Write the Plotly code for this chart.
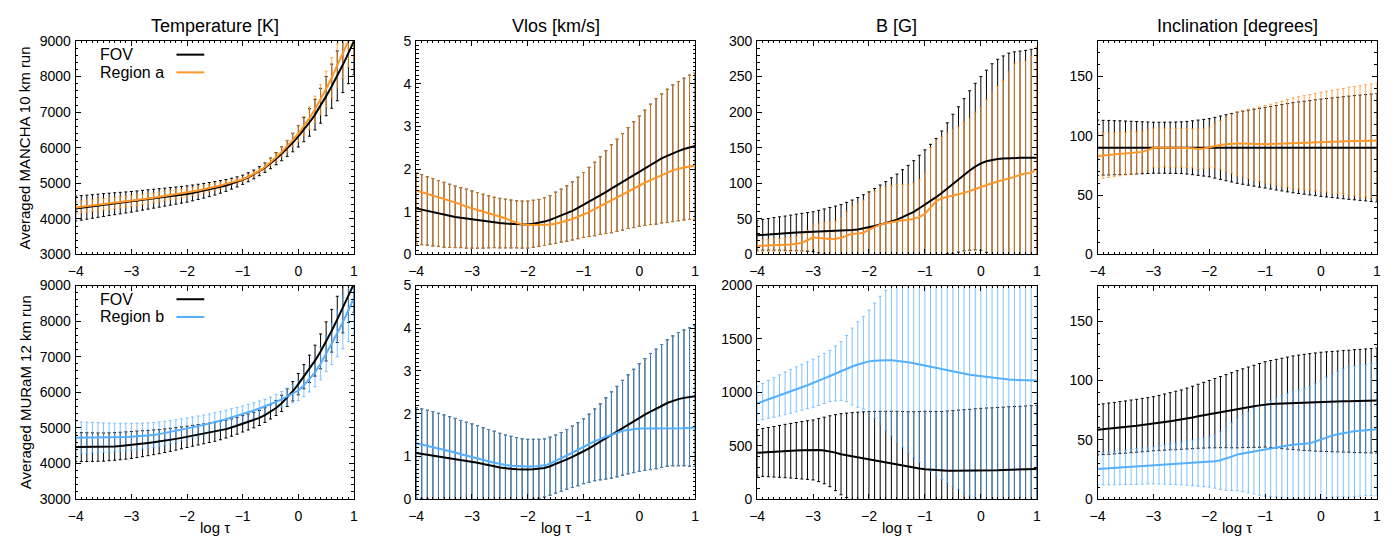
import plotly.graph_objects as go

# ---------------------------------------------------------------------------
# Optical-depth grid (log tau)
# ---------------------------------------------------------------------------
LOG_TAU = [-4.0, -3.9, -3.8, -3.7, -3.6, -3.5, -3.4, -3.3, -3.2, -3.1,
           -3.0, -2.9, -2.8, -2.7, -2.6, -2.5, -2.4, -2.3, -2.2, -2.1,
           -2.0, -1.9, -1.8, -1.7, -1.6, -1.5, -1.4, -1.3, -1.2, -1.1,
           -1.0, -0.9, -0.8, -0.7, -0.6, -0.5, -0.4, -0.3, -0.2, -0.1,
           0.0, 0.1, 0.2, 0.3, 0.4, 0.5, 0.6, 0.7, 0.8, 0.9,
           1.0]

# ---------------------------------------------------------------------------
# MANCHA 10 km run: FOV vs. region a
# ---------------------------------------------------------------------------
T_FOV_A = [4290, 4310, 4330, 4350, 4370, 4390, 4408, 4426, 4444, 4462,
           4480, 4502, 4524, 4546, 4568, 4590, 4612, 4634, 4656, 4678,
           4700, 4730, 4760, 4790, 4825, 4860, 4900, 4940, 4990, 5040,
           5100, 5170, 5250, 5340, 5440, 5560, 5690, 5830, 5980, 6145,
           6320, 6510, 6710, 6930, 7180, 7450, 7730, 8020, 8330, 8660,
           9000]
T_FOV_A_ERR = [350, 344, 338, 332, 326, 320, 314, 308, 302, 296,
               290, 284, 278, 272, 266, 260, 254, 248, 242, 236,
               230, 222, 214, 206, 198, 190, 178, 166, 154, 142,
               130, 126, 124, 126, 132, 150, 170, 195, 225, 260,
               300, 340, 385, 430, 490, 550, 620, 700, 780, 860,
               950]
T_REG_A = [4320, 4338, 4356, 4374, 4392, 4410, 4428, 4446, 4464, 4482,
           4500, 4524, 4548, 4572, 4596, 4620, 4644, 4668, 4692, 4716,
           4740, 4770, 4800, 4835, 4867, 4900, 4940, 4985, 5030, 5070,
           5110, 5180, 5260, 5350, 5460, 5590, 5730, 5880, 6040, 6215,
           6400, 6610, 6830, 7080, 7350, 7650, 7970, 8300, 8640, 9000,
           9350]
T_REG_A_ERR = [170, 168, 166, 164, 162, 160, 158, 156, 154, 152,
               150, 147, 144, 141, 138, 135, 132, 129, 126, 123,
               120, 115, 110, 105, 100, 95, 88, 81, 74, 67,
               60, 62, 66, 72, 82, 100, 118, 140, 165, 195,
               230, 270, 320, 370, 430, 500, 560, 620, 680, 730,
               800]

V_FOV_A = [1.08, 1.05, 1.02, 0.99, 0.96, 0.93, 0.905, 0.88, 0.86, 0.84,
           0.82, 0.80, 0.78, 0.765, 0.75, 0.735, 0.725, 0.715, 0.705, 0.70,
           0.70, 0.72, 0.74, 0.77, 0.81, 0.86, 0.91, 0.96, 1.02, 1.09,
           1.16, 1.23, 1.30, 1.38, 1.46, 1.54, 1.62, 1.70, 1.79, 1.87,
           1.95, 2.03, 2.11, 2.18, 2.25, 2.31, 2.37, 2.42, 2.47, 2.51,
           2.54]
V_REG_A = [1.50, 1.46, 1.42, 1.38, 1.35, 1.31, 1.27, 1.22, 1.17, 1.12,
           1.08, 1.04, 1.00, 0.97, 0.93, 0.89, 0.85, 0.79, 0.74, 0.71,
           0.69, 0.69, 0.69, 0.69, 0.70, 0.72, 0.75, 0.79, 0.83, 0.88,
           0.93, 0.99, 1.06, 1.13, 1.20, 1.27, 1.34, 1.41, 1.48, 1.55,
           1.61, 1.68, 1.74, 1.80, 1.86, 1.92, 1.97, 2.01, 2.04, 2.06,
           2.08]
# spread about the FOV mean (shared by both curves)
V_ERR_A = [0.83, 0.82, 0.80, 0.79, 0.77, 0.76, 0.74, 0.72, 0.70, 0.69,
           0.67, 0.65, 0.63, 0.61, 0.59, 0.58, 0.57, 0.56, 0.55, 0.55,
           0.55, 0.55, 0.55, 0.56, 0.57, 0.60, 0.62, 0.65, 0.68, 0.72,
           0.76, 0.81, 0.86, 0.91, 0.97, 1.03, 1.08, 1.13, 1.18, 1.24,
           1.29, 1.35, 1.41, 1.47, 1.51, 1.56, 1.60, 1.63, 1.66, 1.69,
           1.71]

B_FOV_A = [27, 27.7, 28.3, 29, 29.5, 30, 30.5, 31, 31.4, 31.7,
           32, 32.2, 32.4, 32.6, 32.8, 33, 33.6, 34.3, 35.2, 36.5,
           38, 40, 42, 44, 46.5, 49, 52.5, 56, 60, 65,
           70, 75, 80.5, 86.5, 93, 99, 105.5, 112, 118, 123.5,
           128, 131, 133, 134.3, 135, 135.5, 135.7, 135.8, 135.8, 135.8,
           135.8]
B_FOV_A_ERR = [21, 21.6, 22.2, 22.8, 23.4, 24, 24.8, 25.6, 26.4, 27.2,
               28, 29.8, 31.6, 33.4, 35.2, 37, 39.6, 42.2, 44.8, 47.4,
               50, 52.8, 55.6, 58.4, 61.2, 64, 66.6, 69.2, 71.8, 74.4,
               77, 79.8, 82.6, 87, 92, 98, 102, 107, 112, 117,
               122, 128, 135, 140, 144, 147.5, 149, 150, 151, 152.5,
               154]
B_REG_A = [12, 12.2, 12.5, 12.8, 13.2, 13.6, 14.2, 15, 16.5, 20,
           24, 23, 22, 21.8, 22, 23, 26.5, 29, 29.5, 30.5,
           35, 39, 42, 44, 45.5, 47, 48, 48.5, 50, 52.5,
           57, 66, 75, 79, 81.5, 83, 84.5, 86.5, 89, 92,
           95, 97.5, 100, 102.5, 104.5, 106.5, 109, 112, 114, 114.5,
           121]
B_REG_A_ERR = [8, 8.3, 8.6, 8.9, 9.2, 9.4, 9.8, 10.5, 11.5, 14,
               17, 20, 23, 24, 25, 28, 33.5, 38, 42.5, 46,
               50, 50, 50, 50.5, 51, 51, 50.5, 50, 50, 53,
               58, 84, 85, 86, 89, 92, 95, 98.5, 103, 108,
               112, 120, 128, 134, 140, 150, 159, 158, 158, 164,
               171]

I_FOV_A = [90, 90, 90, 90, 90, 90, 90, 90, 90, 90,
           90, 90, 90, 90, 90, 90, 90, 90, 90, 90,
           90, 90, 90, 90, 90, 90, 90, 90, 90, 90,
           90, 90, 90, 90, 90, 90, 90, 90, 90, 90,
           90, 90, 90, 90, 90, 90, 90, 90, 90, 90,
           90]
I_FOV_A_ERR = [23.3, 23.1, 23.0, 22.8, 22.7, 22.5, 22.3, 22.1, 21.9, 21.7,
               21.5, 21.5, 21.5, 21.6, 21.7, 21.8, 22.2, 22.7, 23.3, 23.9,
               24.5, 25.6, 26.7, 27.8, 28.9, 30, 30.8, 31.6, 32.4, 33.2,
               34, 34.8, 35.6, 36.4, 37.2, 38, 38.6, 39.2, 39.8, 40.4,
               41, 41.5, 42, 42.5, 43, 43.5, 43.9, 44.4, 44.8, 45.3,
               45.7]
I_REG_A = [83, 83.4, 83.8, 84.2, 84.6, 85, 85.5, 86, 86.5, 88,
           90, 90.2, 90.2, 90.1, 90, 90, 89.8, 89.5, 89, 89.3,
           90.5, 91.5, 92.3, 93, 93.4, 93.5, 93.5, 93.3, 93, 93,
           93, 93.1, 93.3, 93.5, 93.7, 94, 94.2, 94.4, 94.6, 94.8,
           95, 95.1, 95.2, 95.3, 95.4, 95.5, 95.6, 95.7, 95.8, 95.9,
           96]
I_REG_A_ERR = [19.5, 19.2, 18.9, 18.6, 18.3, 18, 17.7, 17.4, 17.1, 16.8,
               16.5, 16.4, 16.4, 16.3, 16.3, 16.3, 16.4, 16.5, 16.6, 16.8,
               17, 18.5, 20.5, 22.5, 24.8, 26.8, 28, 29.2, 30.3, 31.4,
               32.5, 33.6, 34.7, 35.8, 36.9, 38, 38.8, 39.5, 40.2, 41,
               41.8, 42.5, 43.2, 43.9, 44.6, 45.5, 46.1, 46.7, 47.3, 47.9,
               48.5]

# ---------------------------------------------------------------------------
# MURaM 12 km run: FOV vs. region b
# ---------------------------------------------------------------------------
T_FOV_B = [4460, 4460, 4460, 4460, 4460, 4462, 4470, 4480, 4492, 4505,
           4520, 4538, 4556, 4575, 4595, 4615, 4640, 4665, 4692, 4720,
           4750, 4778, 4805, 4833, 4861, 4890, 4925, 4965, 5010, 5060,
           5115, 5165, 5220, 5280, 5360, 5450, 5560, 5690, 5850, 6030,
           6230, 6440, 6660, 6890, 7150, 7430, 7730, 8050, 8370, 8710,
           9050]
T_FOV_B_ERR = [410, 407, 404, 401, 398, 395, 392, 389, 386, 383,
               380, 372, 364, 356, 348, 340, 332, 324, 316, 308,
               300, 293, 286, 279, 272, 265, 258, 251, 244, 237,
               230, 224, 218, 212, 206, 200, 212, 228, 248, 272,
               300, 340, 385, 435, 490, 550, 600, 650, 700, 750,
               800]
T_REG_B = [4725, 4725, 4725, 4725, 4725, 4725, 4727, 4730, 4735, 4742,
           4750, 4760, 4772, 4786, 4802, 4825, 4855, 4885, 4915, 4948,
           4980, 5015, 5050, 5085, 5122, 5160, 5200, 5245, 5295, 5340,
           5390, 5440, 5490, 5545, 5600, 5660, 5730, 5800, 5880, 5960,
           6050, 6200, 6370, 6560, 6800, 7080, 7360, 7660, 7970, 8300,
           8650]
T_REG_B_ERR = [450, 443, 436, 429, 422, 415, 408, 401, 394, 387,
               380, 372, 364, 356, 348, 340, 332, 324, 316, 308,
               300, 293, 286, 279, 272, 265, 258, 251, 244, 237,
               230, 224, 218, 212, 206, 200, 210, 222, 238, 258,
               280, 320, 360, 405, 450, 500, 580, 660, 750, 870,
               1000]

V_FOV_B = [1.08, 1.06, 1.04, 1.02, 0.99, 0.97, 0.95, 0.93, 0.91, 0.89,
           0.87, 0.85, 0.82, 0.80, 0.77, 0.74, 0.72, 0.71, 0.70, 0.69,
           0.69, 0.70, 0.71, 0.73, 0.77, 0.82, 0.87, 0.93, 0.99, 1.05,
           1.12, 1.19, 1.27, 1.34, 1.42, 1.50, 1.58, 1.67, 1.75, 1.83,
           1.91, 1.98, 2.05, 2.11, 2.18, 2.25, 2.30, 2.34, 2.37, 2.39,
           2.41]
V_REG_B = [1.31, 1.28, 1.25, 1.22, 1.19, 1.16, 1.12, 1.09, 1.05, 1.02,
           0.98, 0.95, 0.92, 0.88, 0.85, 0.82, 0.80, 0.78, 0.77, 0.76,
           0.76, 0.76, 0.77, 0.79, 0.83, 0.89, 0.95, 1.02, 1.09, 1.16,
           1.23, 1.29, 1.35, 1.41, 1.46, 1.50, 1.55, 1.60, 1.62, 1.64,
           1.65, 1.65, 1.65, 1.65, 1.65, 1.65, 1.66, 1.66, 1.66, 1.67,
           1.67]
V_ERR_B = [1.06, 1.05, 1.04, 1.03, 1.02, 1.00, 0.98, 0.96, 0.93, 0.91,
           0.89, 0.87, 0.85, 0.83, 0.82, 0.80, 0.78, 0.76, 0.74, 0.72,
           0.71, 0.70, 0.69, 0.68, 0.68, 0.68, 0.69, 0.70, 0.72, 0.74,
           0.76, 0.80, 0.84, 0.89, 0.95, 1.01, 1.06, 1.11, 1.16, 1.21,
           1.26, 1.31, 1.36, 1.40, 1.44, 1.48, 1.52, 1.56, 1.59, 1.62,
           1.65]

B_FOV_B = [433, 437, 440, 443, 447, 450, 453, 455, 457, 459,
           460, 459, 455, 448, 435, 420, 410, 400, 390, 380,
           370, 360, 350, 340, 330, 320, 310, 300, 292, 286,
           280, 275, 270, 266, 265, 265, 265, 265, 266, 267,
           268, 269, 270, 271, 273, 275, 276, 277, 278, 280,
           281]
B_FOV_B_ERR = [217, 224, 230, 237, 243, 250, 256, 262, 269, 275,
               281, 295, 312, 332, 356, 380, 395, 410, 424, 437,
               450, 461, 472, 482, 492, 502, 510, 518, 526, 534,
               542, 547, 551, 555, 560, 565, 568, 572, 575, 579,
               582, 584, 585, 587, 588, 590, 591, 592, 594, 595,
               596]
B_REG_B = [896, 914, 933, 952, 971, 990, 1009, 1028, 1047, 1066,
           1085, 1107, 1130, 1153, 1177, 1200, 1222, 1242, 1260, 1276,
           1290, 1296, 1300, 1301, 1300, 1296, 1290, 1282, 1272, 1261,
           1250, 1238, 1226, 1214, 1202, 1190, 1180, 1172, 1164, 1157,
           1150, 1144, 1138, 1132, 1126, 1120, 1117, 1115, 1113, 1111,
           1110]
B_REG_B_ERR = [161, 169, 177, 185, 193, 200, 205, 210, 215, 220,
               225, 230, 235, 240, 257, 275, 310, 360, 400, 433,
               480, 540, 600, 655, 708, 760, 810, 846, 882, 916,
               950, 978, 1006, 1029, 1052, 1071, 1090, 1112, 1134, 1152,
               1170, 1180, 1190, 1200, 1208, 1215, 1222, 1228, 1234, 1240,
               1245]

I_FOV_B = [58.5, 58.9, 59.4, 59.8, 60.3, 60.7, 61.3, 61.8, 62.4, 62.9,
           63.5, 64.2, 64.9, 65.6, 66.3, 67, 67.9, 68.8, 69.8, 70.7,
           71.6, 72.4, 73.3, 74.1, 74.9, 75.7, 76.6, 77.4, 78.2, 79,
           79.8, 80.1, 80.4, 80.6, 80.9, 81.2, 81.4, 81.5, 81.7, 81.8,
           82, 82.1, 82.2, 82.3, 82.4, 82.5, 82.6, 82.7, 82.8, 82.9,
           83]
I_FOV_B_ERR = [21.3, 21.4, 21.6, 21.7, 21.9, 22, 22.2, 22.3, 22.5, 22.6,
               22.8, 23.2, 23.7, 24.1, 24.6, 25, 25.7, 26.3, 27, 27.7,
               28.4, 29.2, 30, 30.8, 31.7, 32.5, 33.2, 33.9, 34.6, 35.3,
               36, 36.7, 37.4, 38.1, 38.8, 39.5, 40, 40.5, 40.9, 41.4,
               41.8, 42, 42.3, 42.5, 42.8, 43, 43.3, 43.5, 43.8, 44,
               44.3]
I_REG_B = [25.3, 25.6, 25.9, 26.1, 26.4, 26.7, 27.1, 27.5, 27.8, 28.2,
           28.6, 28.9, 29.2, 29.4, 29.7, 30, 30.3, 30.5, 30.8, 31,
           31.3, 31.8, 32.7, 34, 35.8, 37.6, 38.5, 39.3, 40.1, 40.9,
           41.7, 42.6, 43.5, 44.3, 45.1, 45.8, 46.3, 46.6, 47, 48.5,
           50.2, 52, 53.5, 54.7, 55.7, 56.6, 57.2, 57.7, 58.1, 58.5,
           58.8]
I_REG_B_ERR = [13.4, 13.6, 13.8, 14.1, 14.3, 14.5, 14.8, 15, 15.3, 15.5,
               15.7, 16.2, 16.6, 17.1, 17.5, 18, 18.6, 19.3, 19.9, 20.6,
               21.2, 22.6, 24.5, 26.6, 28.6, 30.6, 32.3, 34.1, 35.8, 37.6,
               39.3, 40.5, 41.7, 42.9, 44.1, 45.3, 46, 46.8, 47.7, 48.7,
               49.7, 50.8, 51.8, 52.8, 53.8, 54.8, 55, 55.2, 55.3, 55.5,
               55.6]

# ---------------------------------------------------------------------------
# Labels
# ---------------------------------------------------------------------------
COLUMN_TITLES = ["Temperature [K]", "Vlos [km/s]", "B [G]", "Inclination [degrees]"]
ROW_TITLES = ["Averaged MANCHA 10 km run", "Averaged MURaM 12 km run"]
REGION_NAMES = ["Region a", "Region b"]
X_TICKS = [-4, -3, -2, -1, 0, 1]
X_LABEL = "log \u03c4"

FONT = "Liberation Sans, Arial, Helvetica, sans-serif"
ORANGE = "rgb(255,150,40)"
ORANGE_BAR = "rgba(255,150,40,0.8)"
BLUE = "rgb(85,175,255)"
BLUE_BAR = "rgba(85,175,255,0.75)"

# per panel: fov mean, fov err, region mean, region err, region bars about FOV mean?,
# y range, major dtick, minor dtick
PANELS = [
    [  # MANCHA row
        (T_FOV_A, T_FOV_A_ERR, T_REG_A, T_REG_A_ERR, False, [3000, 9000], 1000, 200),
        (V_FOV_A, V_ERR_A, V_REG_A, V_ERR_A, True, [0, 5], 1, 0.1),
        (B_FOV_A, B_FOV_A_ERR, B_REG_A, B_REG_A_ERR, False, [0, 300], 50, 10),
        (I_FOV_A, I_FOV_A_ERR, I_REG_A, I_REG_A_ERR, False, [0, 180], 50, 10),
    ],
    [  # MURaM row
        (T_FOV_B, T_FOV_B_ERR, T_REG_B, T_REG_B_ERR, False, [3000, 9000], 1000, 200),
        (V_FOV_B, V_ERR_B, V_REG_B, V_ERR_B, True, [0, 5], 1, 0.1),
        (B_FOV_B, B_FOV_B_ERR, B_REG_B, B_REG_B_ERR, False, [0, 2000], 500, 100),
        (I_FOV_B, I_FOV_B_ERR, I_REG_B, I_REG_B_ERR, False, [0, 180], 50, 10),
    ],
]

W, H = 1397, 542
COL_DOMAINS = [[0.0489, 0.2498], [0.2947, 0.4961], [0.5409, 0.7428], [0.7867, 0.9883]]
ROW_DOMAINS = [[0.5314, 0.9373], [0.0664, 0.4723]]

fig = go.Figure()
annotations = []
shapes = []
layout_axes = {}

for r, row in enumerate(PANELS):
    reg_line, reg_bar = (ORANGE, ORANGE_BAR) if r == 0 else (BLUE, BLUE_BAR)
    for c, (fov, fov_err, reg, reg_err, bars_on_fov, yrange, dtick, mdtick) in enumerate(row):
        n = r * 4 + c + 1
        xa = "x" if n == 1 else f"x{n}"
        ya = "y" if n == 1 else f"y{n}"

        def bar_trace(y, err, color):
            return go.Scatter(
                x=LOG_TAU, y=y, xaxis=xa, yaxis=ya, mode="markers",
                marker=dict(size=1, color="rgba(0,0,0,0)"),
                error_y=dict(type="data", array=err, symmetric=True,
                             color=color, thickness=1, width=1.5),
                hoverinfo="skip", showlegend=False)

        # error bars first, mean profiles on top
        fig.add_trace(bar_trace(fov, fov_err, "black"))
        fig.add_trace(bar_trace(fov if bars_on_fov else reg, reg_err, reg_bar))
        fig.add_trace(go.Scatter(x=LOG_TAU, y=fov, xaxis=xa, yaxis=ya, mode="lines",
                                 line=dict(color="black", width=2),
                                 hoverinfo="skip", showlegend=False))
        fig.add_trace(go.Scatter(x=LOG_TAU, y=reg, xaxis=xa, yaxis=ya, mode="lines",
                                 line=dict(color=reg_line, width=2),
                                 hoverinfo="skip", showlegend=False))

        common = dict(showgrid=False, zeroline=False, showline=True, linecolor="black",
                      linewidth=1, mirror="allticks", ticks="inside", tickcolor="black",
                      tickwidth=1, tickfont=dict(family=FONT, size=14, color="black"))
        layout_axes["xaxis" if n == 1 else f"xaxis{n}"] = dict(
            domain=COL_DOMAINS[c], anchor=ya, range=[-4, 1],
            tickmode="array", tickvals=X_TICKS, ticklen=5, ticklabelstandoff=4,
            minor=dict(dtick=0.1, tick0=-4, ticks="inside", ticklen=2.5, tickcolor="black"),
            **common)
        layout_axes["yaxis" if n == 1 else f"yaxis{n}"] = dict(
            domain=ROW_DOMAINS[r], anchor=xa, range=yrange,
            tick0=0, dtick=dtick, ticklen=5, ticklabelstandoff=1,
            minor=dict(dtick=mdtick, tick0=0, ticks="inside", ticklen=2.5, tickcolor="black"),
            **common)

        # column headings / x-axis label
        if r == 0:
            annotations.append(dict(
                text=COLUMN_TITLES[c], xref="paper", yref="paper",
                x=sum(COL_DOMAINS[c]) / 2, y=1 - 19 / H, showarrow=False,
                xanchor="center", yanchor="middle",
                font=dict(family=FONT, size=18, color="black")))
        else:
            annotations.append(dict(
                text=X_LABEL, xref="paper", yref="paper",
                x=sum(COL_DOMAINS[c]) / 2, y=0, yshift=-4, showarrow=False,
                xanchor="center", yanchor="bottom",
                font=dict(family=FONT, size=15, color="black")))

        # key inside the temperature panels
        if c == 0:
            for k, (label, col) in enumerate([("FOV", "black"), (REGION_NAMES[r], reg_line)]):
                yk = 0.936 - 0.083 * k
                annotations.append(dict(
                    text=label, xref=f"{xa} domain", yref=f"{ya} domain",
                    x=0.08, y=yk, showarrow=False, xanchor="left", yanchor="middle",
                    font=dict(family=FONT, size=16, color="black")))
                shapes.append(dict(
                    type="line", xref=f"{xa} domain", yref=f"{ya} domain",
                    x0=0.362, x1=0.462, y0=yk, y1=yk,
                    line=dict(color=col, width=2)))

    annotations.append(dict(
        text=ROW_TITLES[r], xref="paper", yref="paper",
        x=17 / W, y=sum(ROW_DOMAINS[r]) / 2, showarrow=False, textangle=-90,
        xanchor="center", yanchor="middle",
        font=dict(family=FONT, size=15, color="black")))

fig.update_layout(
    width=W, height=H,
    margin=dict(l=0, r=0, t=0, b=0),
    paper_bgcolor="white", plot_bgcolor="white",
    font=dict(family=FONT, color="black"),
    annotations=annotations, shapes=shapes,
    **layout_axes)

fig.write_html("out.html")
